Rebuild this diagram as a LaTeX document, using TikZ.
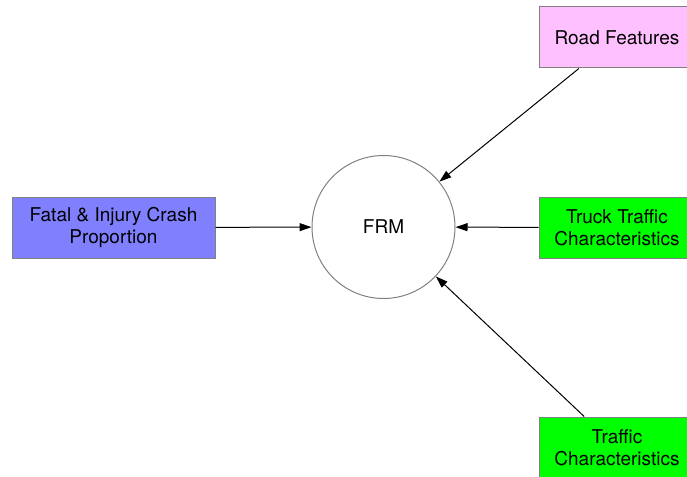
\documentclass[tikz,border=0pt]{standalone}
\usepackage{fontspec}
\setmainfont{TeX Gyre Heros}
\usetikzlibrary{arrows.meta}
\definecolor{crashblue}{HTML}{8080FF}
\definecolor{roadpink}{HTML}{FFC0FF}
\definecolor{trafficgreen}{HTML}{00FF00}
\begin{document}
\begin{tikzpicture}[x=1pt,y=-1pt,
   factor/.style={draw=gray,line width=1pt,fill=#1,minimum width=156pt,minimum height=61pt,
      align=center,inner sep=0pt,font={\fontsize{19}{22}\selectfont}},
   link/.style={-{Triangle[length=12pt,width=8pt]},line width=1pt,black}]
   \clip (0,0) rectangle (687,476);
   \node[circle,draw=gray,line width=1pt,minimum size=143pt,inner sep=0pt,
      font={\fontsize{19}{22}\selectfont}] (frm) at (383.5,227) {FRM};
   \node[factor=crashblue,minimum width=203pt] (crash) at (113.5,227.5) {Fatal \& Injury Crash\\Proportion};
   \node[factor=roadpink] (road) at (617,37.5) {Road Features};
   \node[factor=trafficgreen] (truck) at (617,227.5) {Truck Traffic\\Characteristics};
   \node[factor=trafficgreen] (traffic) at (617,447.5) {Traffic\\Characteristics};
   \draw[link] (crash) -- (frm);
   \draw[link] (road) -- (frm);
   \draw[link] (truck) -- (frm);
   \draw[link] (traffic) -- (frm);
\end{tikzpicture}
\end{document}
